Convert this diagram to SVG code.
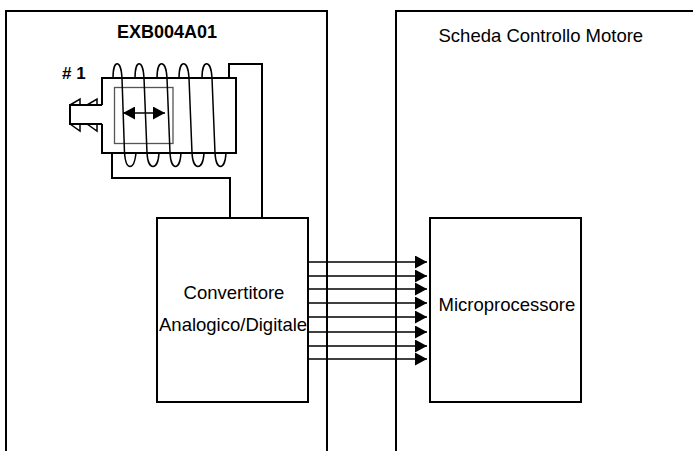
<svg xmlns="http://www.w3.org/2000/svg" width="693" height="451" viewBox="0 0 693 451">
<style>
.l{fill:none;stroke:#000;stroke-width:2}
.c{fill:none;stroke:#000;stroke-width:1.5}
.t{font-family:"Liberation Sans",Arial,sans-serif;font-size:18.5px;fill:#000}
.b{font-weight:bold}
.a{stroke:#000;stroke-width:1.5;fill:none}
</style>
<defs>
<marker id="ah" markerUnits="userSpaceOnUse" markerWidth="12" markerHeight="13" refX="12" refY="6.5" orient="auto"><path d="M0,0L12,6.5L0,13Z" fill="#000"/></marker>
<marker id="dh" markerUnits="userSpaceOnUse" markerWidth="12" markerHeight="13" refX="12" refY="6.5" orient="auto-start-reverse"><path d="M0,0L12,6.5L0,13Z" fill="#000"/></marker>
</defs>
<rect width="693" height="451" fill="#fff"/>
<g id="frame-left"><path class="l" d="M6,451V11H327V451"/><text class="t b" x="117" y="38" style="font-size:18px">EXB004A01</text></g>
<g id="frame-right"><path class="l" d="M396,451V11H693"/><text class="t" x="438.500" y="42">Scheda Controllo Motore</text></g>
<g id="sensor">
<text class="t b" x="62" y="79" style="font-size:17px"># 1</text>
<path class="l" d="M102,105V78H236V153H102V124M102,105H70V124H102"/>
<rect x="114.500" y="87.500" width="58.500" height="56" fill="none" stroke="#555" stroke-width="1.300"/>
<path class="c" d="M70,105L80,99V105M87,105L97,99V105M70,124L80,131V124M87,124L97,131V124"/>
<path class="c" d="M113,78C113,59 121,59 122,78L124.500,153C126,171 134,171 136,153"/>
<path class="c" d="M135,78C135,59 143,59 144,78L147,153C148,171 158,171 159,153"/>
<path class="c" d="M157,78C157,59 166,59 167,78L170,153C171,171 180,171 181,153"/>
<path class="c" d="M179,78C179,59 188,59 189,78L192,153C193,171 203,171 204,153"/>
<path class="c" d="M202,78C202,59 211,59 212,78L215,153C216,171 225,171 226,153"/>
<path d="M123,113H165" stroke="#000" stroke-width="1.500" marker-start="url(#dh)" marker-end="url(#dh)" fill="none"/>
</g>
<g id="converter"><rect class="l" x="157" y="218" width="151" height="184" fill="#fff"/><text class="t" x="234" y="299" text-anchor="middle">Convertitore</text><text class="t" x="159" y="331">Analogico/Digitale</text></g>
<g id="microprocessor"><rect class="l" x="430" y="218" width="151" height="184" fill="#fff"/><text class="t" x="438.500" y="311">Microprocessore</text></g>
<g id="connectors">
<path class="l" d="M229,78V64H262V218M112,153V178H230V218"/>
<path class="a" marker-end="url(#ah)" d="M308,262H427"/>
<path class="a" marker-end="url(#ah)" d="M308,276H427"/>
<path class="a" marker-end="url(#ah)" d="M308,289H427"/>
<path class="a" marker-end="url(#ah)" d="M308,303H427"/>
<path class="a" marker-end="url(#ah)" d="M308,317H427"/>
<path class="a" marker-end="url(#ah)" d="M308,332H427"/>
<path class="a" marker-end="url(#ah)" d="M308,346H427"/>
<path class="a" marker-end="url(#ah)" d="M308,359H427"/>
</g>
</svg>
